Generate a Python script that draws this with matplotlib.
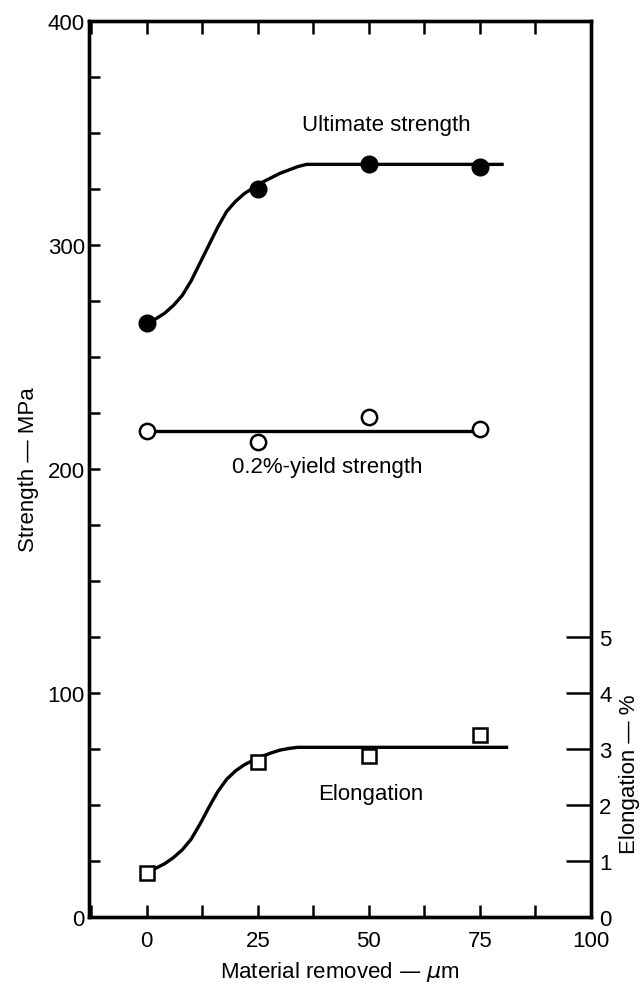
import numpy as np
import matplotlib
matplotlib.use('Agg')
import matplotlib.pyplot as plt
from matplotlib.ticker import MultipleLocator

plt.rcParams['font.family'] = ['Liberation Sans', 'DejaVu Sans']

# measured points
removed = [0, 25, 50, 75]
ultimate = [265, 325, 336, 335]
yield_02 = [217, 212, 223, 218]
elong = [0.79, 2.76, 2.87, 3.25]

# hand-drawn fit curves
ult_fit_x = [0, 2, 4, 6, 8, 10, 12, 14, 16, 18, 20, 22, 24, 26, 28, 30, 32, 34, 36, 80]
ult_fit_y = [265, 267, 269.5, 273, 277.5, 284, 292, 300, 308, 315, 319.5, 323, 325.5,
             328, 330, 332, 333.5, 335, 336, 336]
yld_fit_x = [0, 75]
yld_fit_y = [217, 217]
el_fit_x = [0, 2, 4, 6, 8, 10, 12, 14, 16, 18, 20, 22, 24, 26, 28, 30, 32, 34, 81]
el_fit_y = [0.79, 0.87, 0.95, 1.06, 1.20, 1.39, 1.66, 1.96, 2.24, 2.46, 2.61, 2.72, 2.80,
            2.87, 2.93, 2.98, 3.01, 3.03, 3.03]

fig = plt.figure(figsize=(6.43, 9.87), dpi=100)
ax = fig.add_axes([0.1384, 0.0699, 0.7806, 0.9078])
ax2 = ax.twinx()

lw = 2.4
ax.plot(ult_fit_x, ult_fit_y, '-k', lw=lw, solid_joinstyle='round')
ax.plot(removed, ultimate, 'o', color='k', ms=12)
ax.plot(yld_fit_x, yld_fit_y, '-k', lw=lw)
ax.plot(removed, yield_02, 'o', mfc='white', mec='k', mew=1.8, ms=11)
ax2.plot(el_fit_x, el_fit_y, '-k', lw=lw, solid_joinstyle='round')
ax2.plot(removed, elong, 's', mfc='white', mec='k', mew=1.8, ms=9.5)

ax.set_xlim(-13, 100)
ax.set_ylim(0, 400)
ax2.set_ylim(0, 16)

ax.xaxis.set_major_locator(MultipleLocator(25))
ax.xaxis.set_minor_locator(MultipleLocator(12.5))
ax.yaxis.set_major_locator(MultipleLocator(100))
ax.yaxis.set_minor_locator(MultipleLocator(25))
ax2.set_yticks([0, 1, 2, 3, 4, 5])

fs = 16
ax.tick_params(axis='x', which='both', direction='in', top=True, length=9, width=1.8,
               labelsize=fs, pad=9)
ax.tick_params(axis='y', which='both', direction='in', length=8, width=1.8,
               labelsize=fs, pad=3)
ax2.tick_params(axis='y', direction='in', length=18, width=1.8, labelsize=fs, pad=6)

for a in (ax, ax2):
    for s in a.spines.values():
        s.set_linewidth(2.4)

ax.set_xlabel('Material removed — $\\mu$m', fontsize=fs, labelpad=6)
ax.set_ylabel('Strength — MPa', fontsize=fs, labelpad=6)
ax2.set_ylabel('Elongation — %', fontsize=fs)
ax2.yaxis.set_label_coords(1.055, 0.16)

ax.text(54, 354, 'Ultimate strength', fontsize=fs, ha='center', va='center')
ax.text(40.7, 201, '0.2%-yield strength', fontsize=fs, ha='center', va='center')
ax2.text(50.5, 2.2, 'Elongation', fontsize=fs, ha='center', va='center')

fig.savefig('out.png', dpi=100)
